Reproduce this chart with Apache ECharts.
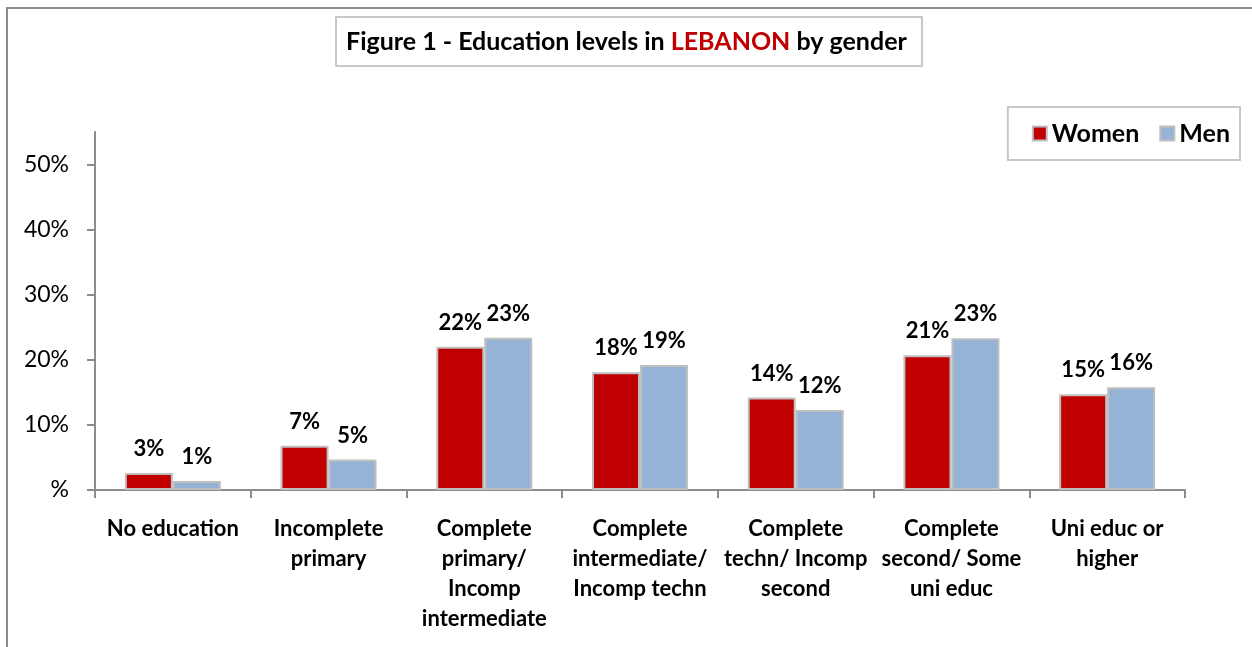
<!DOCTYPE html>
<html>
<head>
<meta charset="utf-8">
<script src="https://cdn.jsdelivr.net/npm/echarts@6/dist/echarts.min.js"></script>
<style>
  html, body { margin: 0; padding: 0; background: #fff; }
  #chart { width: 1252px; height: 647px; }
</style>
</head>
<body>
<div id="chart"></div>
<script>
// data (percent)
var categories = [
  "No education",
  "Incomplete\nprimary",
  "Complete\nprimary/\nIncomp\nintermediate",
  "Complete\nintermediate/\nIncomp techn",
  "Complete\ntechn/ Incomp\nsecond",
  "Complete\nsecond/ Some\nuni educ",
  "Uni educ or\nhigher"
];
var women = [2.6, 6.8, 22.0, 18.1, 14.2, 20.7, 14.7];
var men = [1.4, 4.7, 23.4, 19.2, 12.3, 23.3, 15.8];
var yTicks = [0, 10, 20, 30, 40, 50];

var font = "Lato, 'Open Sans', sans-serif";

var chart = echarts.init(document.getElementById("chart"));

var labelOpt = {
  show: true,
  position: "top",
  distance: 13,
  color: "#000",
  fontFamily: font,
  fontWeight: "bold",
  fontSize: 22,
  formatter: function (p) {
    return Math.round(p.value) + "%";
  }
};

var option = {
  backgroundColor: "#fff",
  animation: false,
  graphic: [
    {
      // outer frame of the original figure
      type: "rect",
      shape: { x: 7, y: 8, width: 1300, height: 700 },
      style: { fill: "none", stroke: "#8c8c8c", lineWidth: 2 },
      silent: true
    }
  ],
  title: {
    text: "{a|Figure 1 - Education levels in }{b|LEBANON}{a| by gender}",
    left: 336,
    top: 17,
    borderColor: "#c8c8c8",
    borderWidth: 2,
    padding: [12, 15, 12, 10],
    textStyle: {
      rich: {
        a: { fontFamily: font, fontWeight: "bold", fontSize: 25, color: "#000" },
        b: { fontFamily: font, fontWeight: "bold", fontSize: 25, color: "#c00000" }
      }
    }
  },
  legend: {
    right: 12,
    top: 107,
    borderColor: "#c8c8c8",
    borderWidth: 2,
    padding: [14, 10, 14, 24],
    itemWidth: 14,
    itemHeight: 14,
    itemGap: 20,
    icon: "rect",
    textStyle: { fontFamily: font, fontWeight: "bold", fontSize: 25, color: "#000" },
    data: ["Women", "Men"]
  },
  grid: {
    left: 95,
    right: 67,
    top: 132,
    bottom: 157,
    containLabel: false
  },
  xAxis: {
    type: "category",
    data: categories,
    axisLine: { lineStyle: { color: "#8c8c8c", width: 2 } },
    axisTick: { show: true, length: 8, lineStyle: { color: "#8c8c8c", width: 2 } },
    axisLabel: {
      interval: 0,
      margin: 24,
      color: "#000",
      fontFamily: font,
      fontWeight: "bold",
      fontSize: 22,
      lineHeight: 30
    }
  },
  yAxis: {
    type: "value",
    min: 0,
    max: 55,
    interval: 5,
    splitLine: { show: false },
    axisLine: { show: true, lineStyle: { color: "#8c8c8c", width: 2 } },
    axisTick: {
      show: true,
      length: 8,
      customValues: yTicks,
      lineStyle: { color: "#8c8c8c", width: 2 }
    },
    axisLabel: {
      customValues: yTicks,
      margin: 26,
      color: "#000",
      fontFamily: font,
      fontSize: 23,
      formatter: function (v) {
        return v === 0 ? "%" : v + "%";
      }
    }
  },
  series: [
    {
      name: "Women",
      type: "bar",
      data: women,
      barWidth: 48,
      barGap: "0%",
      itemStyle: { color: "#c00000", borderColor: "#bfbfbf", borderWidth: 2 },
      label: labelOpt
    },
    {
      name: "Men",
      type: "bar",
      data: men,
      barWidth: 48,
      itemStyle: { color: "#95b3d7", borderColor: "#bfbfbf", borderWidth: 2 },
      label: labelOpt
    }
  ]
};

chart.setOption(option);
</script>
</body>
</html>
